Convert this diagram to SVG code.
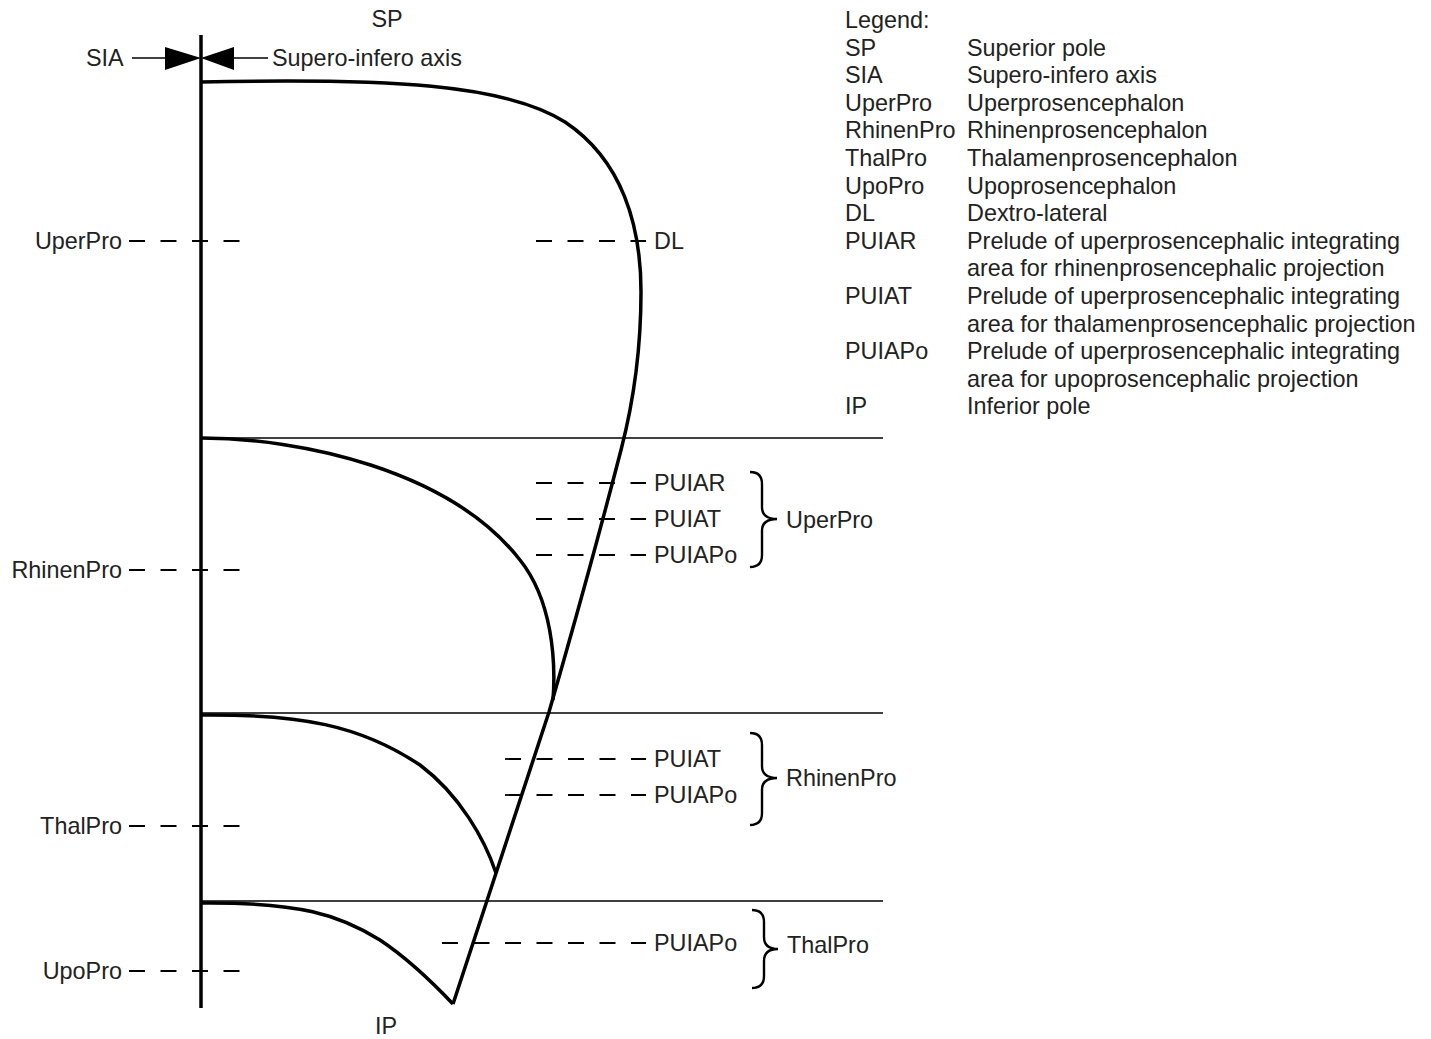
<svg xmlns="http://www.w3.org/2000/svg" width="1431" height="1039" viewBox="0 0 1431 1039">
<style>
text{font-family:"Liberation Sans",Arial,sans-serif;font-size:23.4px;fill:#222}
.end{text-anchor:end}
.mid{text-anchor:middle}
.thick{fill:none;stroke:#000;stroke-width:3.5;stroke-linejoin:round}
.thin{fill:none;stroke:#000;stroke-width:1.6}
.dash{fill:none;stroke:#000;stroke-width:1.8;stroke-dasharray:16 15.5}
.brace{fill:none;stroke:#000;stroke-width:2.4}
</style>
<rect width="1431" height="1039" fill="#fff"/>
<g id="connectors">
<line class="thick" x1="201" y1="35" x2="201" y2="1008"/>
<path class="thick" d="M201,82 C390,78 505,84 565,122 C622,160 641,225 641,292 C641,345 634,400 621,450 Q590,570 549,712 L453,1004"/>
<path class="thick" d="M201,438 C300,438 450,470 520,560 C552,600 556,660 553,700"/>
<path class="thick" d="M201,715 C300,714 360,725 420,765 C460,795 485,840 496,873"/>
<path class="thick" d="M201,903 C300,902 340,915 380,940 C410,960 435,985 453,1004"/>
<line class="thin" x1="201" y1="438" x2="883" y2="438"/>
<line class="thin" x1="201" y1="713" x2="883" y2="713"/>
<line class="thin" x1="201" y1="901" x2="883" y2="901"/>
<line class="thin" x1="132" y1="58" x2="166" y2="58"/>
<polygon points="165,47 201,58 165,70" fill="#000"/>
<polygon points="234,47 201,58 234,70" fill="#000"/>
<line class="thin" x1="233" y1="58" x2="268" y2="58"/>
<line class="dash" x1="129" y1="241" x2="240" y2="241"/>
<line class="dash" x1="129" y1="570" x2="240" y2="570"/>
<line class="dash" x1="129" y1="826" x2="240" y2="826"/>
<line class="dash" x1="129" y1="971" x2="240" y2="971"/>
<line class="dash" x1="536" y1="241" x2="646" y2="241"/>
<line class="dash" x1="536" y1="483" x2="646" y2="483"/>
<line class="dash" x1="536" y1="519" x2="646" y2="519"/>
<line class="dash" x1="536" y1="555" x2="646" y2="555"/>
<line class="dash" x1="505" y1="759" x2="646" y2="759"/>
<line class="dash" x1="505" y1="795" x2="646" y2="795"/>
<line class="dash" x1="442" y1="943" x2="646" y2="943"/>
<path class="brace" d="M750,472 Q762,472 762,484 L762,507 Q762,519 777,519 Q762,519 762,531 L762,555 Q762,567 750,567"/>
<path class="brace" d="M750,733 Q762,733 762,745 L762,766 Q762,778 777,778 Q762,778 762,790 L762,813 Q762,825 750,825"/>
<path class="brace" d="M752,910 Q764,910 764,922 L764,937 Q764,949 778,949 Q764,949 764,961 L764,976 Q764,988 752,988"/>
</g>
<g id="labels">
<text class="mid" x="387" y="27">SP</text>
<text class="mid" x="386" y="1034">IP</text>
<text x="86" y="66">SIA</text>
<text x="272" y="66">Supero-infero axis</text>
<text class="end" x="122" y="249">UperPro</text>
<text class="end" x="122" y="578">RhinenPro</text>
<text class="end" x="122" y="834">ThalPro</text>
<text class="end" x="122" y="979">UpoPro</text>
<text x="654" y="249">DL</text>
<text x="654" y="491">PUIAR</text>
<text x="654" y="527">PUIAT</text>
<text x="654" y="563">PUIAPo</text>
<text x="654" y="767">PUIAT</text>
<text x="654" y="803">PUIAPo</text>
<text x="654" y="951">PUIAPo</text>
<text x="786" y="528">UperPro</text>
<text x="786" y="786">RhinenPro</text>
<text x="787" y="953">ThalPro</text>
</g>
<g id="legend">
<text x="845" y="28">Legend:</text>
<text x="845" y="55.6">SP</text><text x="967" y="55.6">Superior pole</text>
<text x="845" y="83.2">SIA</text><text x="967" y="83.2">Supero-infero axis</text>
<text x="845" y="110.8">UperPro</text><text x="967" y="110.8">Uperprosencephalon</text>
<text x="845" y="138.4">RhinenPro</text><text x="967" y="138.4">Rhinenprosencephalon</text>
<text x="845" y="166">ThalPro</text><text x="967" y="166">Thalamenprosencephalon</text>
<text x="845" y="193.6">UpoPro</text><text x="967" y="193.6">Upoprosencephalon</text>
<text x="845" y="221.2">DL</text><text x="967" y="221.2">Dextro-lateral</text>
<text x="845" y="248.8">PUIAR</text><text x="967" y="248.8">Prelude of uperprosencephalic integrating</text>
<text x="967" y="276.4">area for rhinenprosencephalic projection</text>
<text x="845" y="304">PUIAT</text><text x="967" y="304">Prelude of uperprosencephalic integrating</text>
<text x="967" y="331.6">area for thalamenprosencephalic projection</text>
<text x="845" y="359.2">PUIAPo</text><text x="967" y="359.2">Prelude of uperprosencephalic integrating</text>
<text x="967" y="386.8">area for upoprosencephalic projection</text>
<text x="845" y="414.4">IP</text><text x="967" y="414.4">Inferior pole</text>
</g>
</svg>
